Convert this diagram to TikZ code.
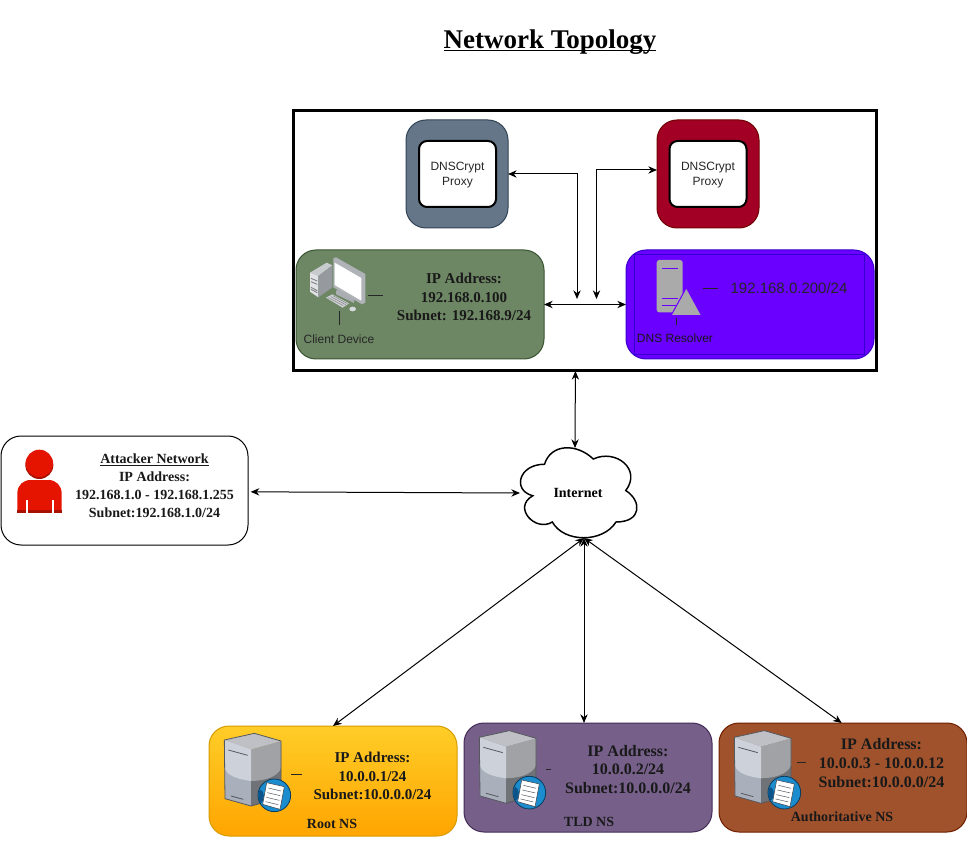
\documentclass[tikz,border=0pt]{standalone}
\usepackage{fontspec}
\setmainfont{Liberation Serif}
\newfontfamily\arialf{Liberation Sans}
\usetikzlibrary{arrows.meta,calc}
\definecolor{slateF}{HTML}{647687}\definecolor{slateD}{HTML}{314354}
\definecolor{crimF}{HTML}{A20025}\definecolor{crimD}{HTML}{6F0000}
\definecolor{greenF}{HTML}{6D8764}\definecolor{greenD}{HTML}{3A5431}
\definecolor{violF}{HTML}{6A00FF}\definecolor{violD}{HTML}{3700CC}
\definecolor{purpF}{HTML}{76608A}\definecolor{purpD}{HTML}{432D57}
\definecolor{brownF}{HTML}{A0522D}\definecolor{brownD}{HTML}{6D1F00}
\definecolor{yelT}{HTML}{FFCD28}\definecolor{yelB}{HTML}{FFA500}\definecolor{yelD}{HTML}{D79B00}
\definecolor{redF}{HTML}{E51400}\definecolor{redD}{HTML}{A81000}
\newcommand\srvicon[2]{%
\begin{scope}[x=.25pt,y=-.25pt,shift={(#1*3,#2*3)}]
\fill[fill={rgb,255:red,169;green,176;blue,188}] (28,42)--(108,70)--(108,240)--(30,218)--cycle;
\fill[fill={rgb,255:red,111;green,114;blue,118}] (108,70)--(198,45)--(198,215)--(108,240)--cycle;
\fill[fill={rgb,255:red,160;green,162;blue,165}] (108,70)--(198,45)--(198,125) .. controls (190,155) and (140,165) .. (108,165)--cycle;
\fill[fill={rgb,255:red,205;green,209;blue,218}] (28,42)--(108,70)--(108,165) .. controls (70,160) and (35,150) .. (29,125)--cycle;
\fill[fill={rgb,255:red,190;green,192;blue,197}] (28,42)--(118,22)--(198,45)--(108,70)--cycle;
\draw[line width=.6pt,draw={rgb,255:red,85;green,88;blue,92},line join=round] (28,42)--(118,22)--(198,45)--(198,215)--(108,240)--(30,218)--cycle;
\draw[line width=.6pt,draw={rgb,255:red,85;green,88;blue,92}] (40,72)--(98,88) (48,210)--(85,220);
\fill[fill={rgb,255:red,27;green,140;blue,205},draw={rgb,255:red,10;green,60;blue,95},line width=.6pt] (178,208) circle (49);
\fill[fill={rgb,255:red,12;green,85;blue,140}] (135,190) .. controls (150,195) and (150,225) .. (137,232) .. controls (128,220) and (128,200) .. (135,190)--cycle;
\fill[fill=white,draw={rgb,255:red,60;green,65;blue,75},line width=.4pt] (155,170)--(208,182)--(195,250)--(143,235)--cycle;
\draw[line width=.4pt,draw={rgb,255:red,90;green,95;blue,105}] (160,186)--(198,195) (157,200)--(196,209) (154,214)--(193,223) (152,227)--(190,236);
\end{scope}}
\tikzset{
  x=.75pt,y=-.75pt,
  boxn/.style={draw,inner sep=0pt,outer sep=0pt,line width=.75pt,rounded corners=15pt},
  proxyin/.style={draw=black,fill=white,inner sep=0pt,outer sep=0pt,line width=1.5pt,rounded corners=6pt,align=center},
  proxytxt/.style={align=center,inner sep=0pt,font=\arialf\fontsize{9}{11.25}\selectfont,text=black!85},
  biarrow/.style={line width=.75pt,{Stealth[length=6.5pt,width=5.5pt]}-{Stealth[length=6.5pt,width=5.5pt]}},
  info/.style={align=center,font=\bfseries\fontsize{#1}{14}\selectfont,inner sep=0pt,text=black!90},
  tagl/.style={font=\arialf\fontsize{9}{11}\selectfont,inner sep=0pt,text=black!85},
  tick/.style={line width=.75pt,draw=black!85}
}
\begin{document}
\begin{tikzpicture}
\useasboundingbox (0,0) rectangle (967,841);
\fill[white] (0,0) rectangle (967,841);
% title
\node[font=\bfseries\fontsize{20.25}{23}\selectfont,inner sep=0pt,anchor=base] (title) at (550,48.5) {\underline{\smash{Network Topology}}};
% enclosure
\node[draw=black,fill=white,line width=2.25pt,minimum width=583*.75pt,minimum height=260*.75pt,inner sep=0pt,outer sep=0pt] (box) at (584.75,241) {};
% proxies
\node[boxn,draw=slateD,fill=slateF,minimum width=76.5pt,minimum height=81pt] (proxyA) at (457,174) {};
\node[proxyin,minimum width=57.75pt,minimum height=49.5pt] (proxyAin) at (457.5,174) {};
\node[proxytxt] (proxyAtxt) at (457.5,175.5) {DNSCrypt\\Proxy};
\node[boxn,draw=crimD,fill=crimF,minimum width=76.5pt,minimum height=81pt] (proxyB) at (708,174) {};
\node[proxyin,minimum width=57.75pt,minimum height=49.5pt] (proxyBin) at (708,174) {};
\node[proxytxt] (proxyBtxt) at (708,175.5) {DNSCrypt\\Proxy};
% client
\node[boxn,draw=greenD,fill=greenF,minimum width=186pt,minimum height=81.75pt] (client) at (420,304.5) {};
\node[info=11.25] (clientip) at (464,297) {IP Address:\\[0pt]192.168.0.100\\[0pt]Subnet: 192.168.9/24};
\node[tagl] (clientlab) at (339,339.5) {Client Device};
% resolver
\node[boxn,draw=violD,fill=violF,minimum width=186pt,minimum height=81.75pt] (resolver) at (750,304.5) {};
\node[draw=violD,line width=.75pt,minimum width=172.5pt,minimum height=75pt,inner sep=0pt] (resinner) at (749,305) {};
\node[tagl,text=black!90] (reslab) at (675,338.5) {DNS Resolver};
\node[font=\arialf\fontsize{11.25}{14}\selectfont,inner sep=0pt,text=black!85] (resip) at (789,288.5) {192.168.0.200/24};
% computer icon
\begin{scope}[x=.25pt,y=-.25pt,shift={(900,750)}]
\fill[fill={rgb,255:red,200;green,203;blue,206}] (30,68)--(80,38)--(97,46)--(55,78)--cycle;
\fill[fill={rgb,255:red,225;green,226;blue,228}] (30,68)--(55,78)--(55,142)--(30,125)--cycle;
\fill[fill={rgb,255:red,150;green,153;blue,157}] (55,78)--(97,46)--(97,112)--(55,142)--cycle;
\draw[line width=.6pt,draw={rgb,255:red,120;green,122;blue,125}] (33,85)--(52,93) (33,95)--(52,103) (33,112)--(52,122) (33,118)--(52,128);
\fill[fill={rgb,255:red,175;green,178;blue,182}] (100,25)--(108,22)--(196,72)--(196,158)--(186,163)--(100,112)--cycle;
\fill[white] (104,38)--(184,84)--(184,152)--(104,105)--cycle;
\fill[fill={rgb,255:red,170;green,173;blue,177}] (108,122)--(115,120)--(163,148)--(162,159)--(108,133)--cycle;
\fill[fill={rgb,255:red,205;green,208;blue,212}] (78,143)--(97,133)--(147,160)--(128,173)--cycle;
\draw[line width=.35pt,draw=gray] (85,143)--(130,167) (92,140)--(137,164) (99,137)--(142,161);
\fill[fill={rgb,255:red,215;green,218;blue,222}] (158,177) ellipse (10 and 7);
\end{scope}
% resolver icon
\begin{scope}[x=.25pt,y=-.25pt,shift={(1950,765)}]
\fill[fill={rgb,255:red,170;green,170;blue,170},rounded corners=2pt] (20,15) rectangle (98,172);
\draw[line width=1.1pt,draw=violF] (35,40)--(85,40) (35,130)--(85,130) (35,152)--(80,152);
\fill[fill={rgb,255:red,170;green,170;blue,170},draw=violF,line width=.75pt,line join=round] (109,98)--(155,182)--(63,182)--cycle;
\end{scope}
\draw[tick] (368,296)--(383,296) (339,311)--(339,325);
\draw[tick] (703,289)--(718,289) (676,318)--(676,325);
% attacker
\node[boxn,draw=black,fill=white,minimum width=185.25pt,minimum height=81.75pt] (attacker) at (124.5,490.5) {};
\node[info=10.5,inner sep=0pt] (attackertxt) at (154.5,485.5) {\underline{Attacker Network}\\[-.5pt]IP Address:\\[-.5pt]192.168.1.0 - 192.168.1.255\\[-.5pt]Subnet:192.168.1.0/24};
\begin{scope}[x=.25pt,y=-.25pt,shift={(30,1335)}]
\fill[redD] (88,60) circle (42);
\fill[redF] (88,55) circle (41);
\fill[redF] (22,203)--(22,145) .. controls (22,120) and (40,105) .. (62,105)--(115,105) .. controls (138,105) and (155,122) .. (155,145)--(155,203)--cycle;
\fill[redD] (22,195) rectangle (155,203);
\fill[white] (48,165) rectangle (53,203);
\fill[white] (126,165) rectangle (131,203);
\end{scope}
% cloud
\def\cx{512}\def\cy{438}\def\cw{130}\def\ch{105}
\draw[fill=white,line width=1.1pt,draw=black]
 (\cx+.25*\cw,\cy+.25*\ch) .. controls (\cx+.05*\cw,\cy+.25*\ch) and (\cx,\cy+.5*\ch) .. (\cx+.16*\cw,\cy+.55*\ch)
 .. controls (\cx,\cy+.66*\ch) and (\cx+.18*\cw,\cy+.9*\ch) .. (\cx+.31*\cw,\cy+.8*\ch)
 .. controls (\cx+.4*\cw,\cy+\ch) and (\cx+.7*\cw,\cy+\ch) .. (\cx+.8*\cw,\cy+.8*\ch)
 .. controls (\cx+\cw,\cy+.8*\ch) and (\cx+\cw,\cy+.6*\ch) .. (\cx+.875*\cw,\cy+.5*\ch)
 .. controls (\cx+\cw,\cy+.3*\ch) and (\cx+.8*\cw,\cy+.1*\ch) .. (\cx+.625*\cw,\cy+.2*\ch)
 .. controls (\cx+.5*\cw,\cy+.05*\ch) and (\cx+.3*\cw,\cy+.05*\ch) .. (\cx+.25*\cw,\cy+.25*\ch) -- cycle;
\node[inner sep=0pt,outer sep=0pt,minimum width=85.5pt,minimum height=67.5pt,font=\bfseries\fontsize{10.5}{12}\selectfont] (cloud) at (578,493) {Internet};
% name servers
\node[boxn,draw=yelD,top color=yelT,bottom color=yelB,minimum width=186pt,minimum height=82.5pt] (root) at (333,781) {};
\node[boxn,draw=purpD,fill=purpF,minimum width=186pt,minimum height=81.75pt] (tld) at (588,777.5) {};
\node[boxn,draw=brownD,fill=brownF,minimum width=186pt,minimum height=81.75pt] (auth) at (843,777.5) {};
\srvicon{215}{726}
\srvicon{470}{723.3}
\srvicon{725}{723.3}
\draw[tick] (291,774)--(302,774);
\draw[tick] (546,769)--(551,769);
\draw[tick] (797,762)--(806,762);
\node[info=11.25] (roottxt) at (372.5,776) {IP Address:\\[0pt]10.0.0.1/24\\[0pt]Subnet:10.0.0.0/24};
\node[info=12] (tldtxt) at (628,769.5) {IP Address:\\[0pt]10.0.0.2/24\\[0pt]Subnet:10.0.0.0/24};
\node[info=12] (authtxt) at (881.5,763) {IP Address:\\[0pt]10.0.0.3 - 10.0.0.12\\[0pt]Subnet:10.0.0.0/24};
\node[info=10.5] (rootlab) at (332,823.5) {Root NS};
\node[info=10.5] (tldlab) at (589,822) {TLD NS};
\node[info=10.5] (authlab) at (842,816.5) {Authoritative NS};
% connectors
\coordinate (jA) at (577,299);
\coordinate (jB) at (596.5,299);
\draw[biarrow] (proxyA.east) -| (jA);
\draw[biarrow] ([yshift=3pt]proxyB.west) -| (jB);
\draw[biarrow] (client.east) -- (resolver.west);
\draw[biarrow] ([xshift=-7pt]box.south) -- ([xshift=-2.25pt]cloud.north);
\draw[biarrow] ([xshift=2pt,yshift=-1pt]attacker.east) -- ([xshift=-.75pt]cloud.west);
\draw[biarrow] ([xshift=4.5pt]cloud.south) -- (root.north);
\draw[biarrow] ([xshift=4.5pt]cloud.south) -- ([xshift=-3pt]tld.north);
\draw[biarrow] ([xshift=4.5pt]cloud.south) -- ([xshift=-1pt]auth.north);
\end{tikzpicture}
\end{document}
